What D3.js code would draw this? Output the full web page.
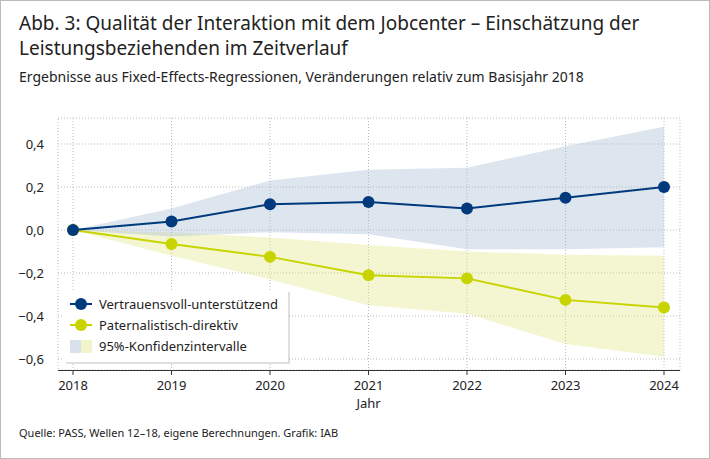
<!DOCTYPE html>
<html><head><meta charset="utf-8">
<script src="https://cdn.jsdelivr.net/npm/d3@7"></script>
<style>
body{margin:0;background:#fff;font-family:"Source Sans Pro","Noto Sans",sans-serif;}
svg{display:block}
</style></head><body><div id="chart"></div>
<script>
// data
const years = [2018, 2019, 2020, 2021, 2022, 2023, 2024];
const vertrauen = [0, 0.04, 0.12, 0.13, 0.10, 0.15, 0.20];
const vertrauenLo = [0, -0.03, -0.01, -0.02, -0.09, -0.09, -0.08];
const vertrauenHi = [0, 0.10, 0.23, 0.28, 0.29, 0.39, 0.48];
const paternal = [0, -0.065, -0.125, -0.21, -0.225, -0.325, -0.36];
const paternalLo = [0, -0.12, -0.23, -0.35, -0.39, -0.53, -0.59];
const paternalHi = [0, -0.01, -0.035, -0.07, -0.10, -0.115, -0.12];
const yTicks = [-0.6, -0.4, -0.2, 0, 0.2, 0.4];

const W = 710, H = 459;
const svg = d3.select("#chart").append("svg").attr("width", W).attr("height", H);
svg.append("rect").attr("x", 0.5).attr("y", 0.5).attr("width", W - 1).attr("height", H - 1)
  .attr("fill", "#fff").attr("stroke", "#bbb");

svg.append("text").attr("x", 19).attr("y", 30).attr("font-size", 19).attr("fill", "#222")
  .text("Abb. 3: Qualität der Interaktion mit dem Jobcenter – Einschätzung der");
svg.append("text").attr("x", 19).attr("y", 55).attr("font-size", 19).attr("fill", "#222")
  .text("Leistungsbeziehenden im Zeitverlauf");
svg.append("text").attr("x", 19).attr("y", 82).attr("font-size", 14).attr("fill", "#222")
  .text("Ergebnisse aus Fixed-Effects-Regressionen, Veränderungen relativ zum Basisjahr 2018");
svg.append("text").attr("x", 19).attr("y", 437).attr("font-size", 11).attr("fill", "#222")
  .text("Quelle: PASS, Wellen 12–18, eigene Berechnungen. Grafik: IAB");

const x = d3.scaleLinear().domain([2018, 2024]).range([73, 664]);
const y = d3.scaleLinear().domain([-0.6, 0.4]).range([359, 144]);
const g = svg.append("g");

// plot frame (dotted)
g.append("rect").attr("x", 58).attr("y", 118).attr("width", 622).attr("height", 252)
  .attr("fill", "none").attr("stroke", "#bbb").attr("stroke-dasharray", "1,2");
g.selectAll(".gy").data(yTicks).join("line")
  .attr("x1", 58).attr("x2", 680).attr("y1", d => y(d)).attr("y2", d => y(d))
  .attr("stroke", "#bbb").attr("stroke-dasharray", "1,2");
g.selectAll(".gx").data(years).join("line")
  .attr("y1", 118).attr("y2", 370).attr("x1", d => x(d)).attr("x2", d => x(d))
  .attr("stroke", "#bbb").attr("stroke-dasharray", "1,2");

// bands
const area = (lo, hi) => d3.area().x((d, i) => x(years[i])).y0((d, i) => y(lo[i])).y1((d, i) => y(hi[i]))(years);
g.append("path").attr("d", area(paternalLo, paternalHi)).attr("fill", "#dfe67a").attr("opacity", 0.35);
g.append("path").attr("d", area(vertrauenLo, vertrauenHi)).attr("fill", "#9fb4d0").attr("opacity", 0.35);

const line = vals => d3.line().x((d, i) => x(years[i])).y(d => y(d))(vals);
[[paternal, "#c8d400"], [vertrauen, "#003a7d"]].forEach(([vals, c]) => {
  g.append("path").attr("d", line(vals)).attr("fill", "none").attr("stroke", c).attr("stroke-width", 2);
  g.selectAll(null).data(vals).join("circle")
    .attr("cx", (d, i) => x(years[i])).attr("cy", d => y(d)).attr("r", 6).attr("fill", c);
});

// axes
g.append("line").attr("x1", 58).attr("x2", 680).attr("y1", 370.5).attr("y2", 370.5).attr("stroke", "#333");
g.selectAll(".xt").data(years).join("line")
  .attr("x1", d => x(d)).attr("x2", d => x(d)).attr("y1", 370).attr("y2", 375).attr("stroke", "#333");
g.selectAll(".xl").data(years).join("text")
  .attr("x", d => x(d)).attr("y", 390).attr("text-anchor", "middle").attr("font-size", 13).attr("fill", "#222")
  .text(d => d);
svg.append("text").attr("x", x(2021)).attr("y", 408).attr("text-anchor", "middle").attr("font-size", 13)
  .attr("fill", "#222").text("Jahr");
g.selectAll(".yl").data(yTicks).join("text")
  .attr("x", 44).attr("y", d => y(d) + 5).attr("text-anchor", "end").attr("font-size", 13).attr("fill", "#222")
  .text(d => d3.format(".1f")(d).replace(".", ",").replace("-", "−"));

// legend
const lg = svg.append("g").attr("transform", "translate(64,290)");
lg.append("rect").attr("x", 2).attr("y", 2).attr("width", 224).attr("height", 72).attr("fill", "#000").attr("opacity", 0.12);
lg.append("rect").attr("width", 224).attr("height", 72).attr("fill", "#fff");
const items = [["Vertrauensvoll-unterstützend", "#003a7d"], ["Paternalistisch-direktiv", "#c8d400"]];
items.forEach(([t, c], i) => {
  const yy = 14 + i * 21;
  lg.append("line").attr("x1", 6).attr("x2", 28).attr("y1", yy).attr("y2", yy).attr("stroke", c).attr("stroke-width", 2);
  lg.append("circle").attr("cx", 17).attr("cy", yy).attr("r", 6).attr("fill", c);
  lg.append("text").attr("x", 35).attr("y", yy + 5).attr("font-size", 13).attr("fill", "#222").text(t);
});
lg.append("rect").attr("x", 6).attr("y", 50).attr("width", 11).attr("height", 13).attr("fill", "#9fb4d0").attr("opacity", 0.4);
lg.append("rect").attr("x", 17).attr("y", 50).attr("width", 11).attr("height", 13).attr("fill", "#dfe67a").attr("opacity", 0.4);
lg.append("text").attr("x", 35).attr("y", 61).attr("font-size", 13).attr("fill", "#222").text("95%-Konfidenzintervalle");
</script></body></html>
